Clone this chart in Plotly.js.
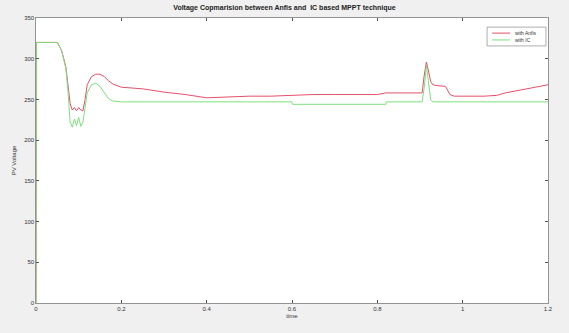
<!DOCTYPE html>
<html>
<head>
<meta charset="utf-8">
<script src="https://cdn.plot.ly/plotly-3.0.1.min.js"></script>
<style>
html,body{margin:0;padding:0;background:#f0f0f0;}
#chart{width:569px;height:333px;}
</style>
</head>
<body>
<div id="chart"></div>
<script>
const anfisTime = [0, 0.001, 0.05, 0.06, 0.07, 0.075, 0.08, 0.085, 0.09, 0.095, 0.1, 0.105, 0.11, 0.115, 0.12, 0.13, 0.14, 0.15, 0.16, 0.17, 0.18, 0.2, 0.25, 0.3, 0.35, 0.4, 0.45, 0.5, 0.55, 0.6, 0.65, 0.7, 0.75, 0.8, 0.82, 0.88, 0.905, 0.91, 0.915, 0.92, 0.925, 0.93, 0.94, 0.96, 0.97, 0.98, 1.0, 1.05, 1.08, 1.1, 1.15, 1.18, 1.2];
const anfisVoltage = [0, 320, 320, 310, 290, 270, 245, 237, 240, 236, 240, 237, 236, 250, 268, 278, 281, 281, 278, 273, 269, 265, 263, 259, 256, 252, 253, 254, 254, 255, 256, 256, 256, 256, 258, 258, 258, 280, 296, 285, 272, 268, 267, 266, 256, 254, 254, 254, 255, 258, 263, 266, 268];
const icTime = [0, 0.001, 0.05, 0.06, 0.07, 0.075, 0.08, 0.085, 0.09, 0.095, 0.1, 0.105, 0.11, 0.115, 0.12, 0.13, 0.14, 0.15, 0.16, 0.17, 0.18, 0.2, 0.6, 0.601, 0.82, 0.821, 0.905, 0.91, 0.915, 0.92, 0.925, 0.93, 1.2];
const icVoltage = [0, 320, 320, 310, 288, 260, 222, 216, 226, 218, 228, 217, 222, 238, 258, 268, 270, 266, 258, 251, 248, 247, 247, 244, 244, 247, 247, 265, 292, 270, 250, 247, 247];
const xTicks = [0, 0.2, 0.4, 0.6, 0.8, 1, 1.2];
const xTickLabels = ['0', '0.2', '0.4', '0.6', '0.8', '1', '1.2'];
const yTicks = [0, 50, 100, 150, 200, 250, 300, 350];
const seriesNames = ['with Anfis', 'with IC'];
const seriesColors = ['#e4506a', '#7ee07e'];

const traces = [
  {x: anfisTime, y: anfisVoltage, type: 'scatter', mode: 'lines', name: seriesNames[0],
   line: {color: seriesColors[0], width: 1}},
  {x: icTime, y: icVoltage, type: 'scatter', mode: 'lines', name: seriesNames[1],
   line: {color: seriesColors[1], width: 1}}
];

const FONT = 'Liberation Sans, Arial, sans-serif';
const axisCommon = {
  showgrid: false, zeroline: false, showline: true, mirror: 'ticks',
  linecolor: '#555', linewidth: 0.6, ticks: 'inside', ticklen: 3, tickcolor: '#555',
  tickfont: {family: FONT, size: 6, color: '#333'}
};

// compact legend box drawn with shapes + annotations
const legX0 = 0.881, legX1 = 0.996, legY0 = 0.902, legY1 = 0.968;
const rowY = [0.947, 0.923];
const shapes = [
  {type: 'rect', xref: 'paper', yref: 'paper', x0: legX0, x1: legX1, y0: legY0, y1: legY1,
   line: {color: '#777', width: 0.6}, fillcolor: '#ffffff'}
];
const annotations = [];
seriesNames.forEach((n, i) => {
  shapes.push({type: 'line', xref: 'paper', yref: 'paper', x0: 0.891, x1: 0.926, y0: rowY[i], y1: rowY[i],
               line: {color: seriesColors[i], width: 1}});
  annotations.push({xref: 'paper', yref: 'paper', x: 0.932, y: rowY[i], xanchor: 'left', yanchor: 'middle',
                    text: n, showarrow: false, font: {family: FONT, size: 5, color: '#333'}});
});

const layout = {
  width: 569, height: 333,
  paper_bgcolor: '#f0f0f0', plot_bgcolor: '#ffffff',
  margin: {l: 36, r: 21, t: 18, b: 30},
  title: {text: '<b>Voltage Copmarision between Anfis and  IC based MPPT technique</b>',
          font: {family: FONT, size: 7, color: '#222'},
          x: 0.5, xanchor: 'center', y: 0.985, yanchor: 'top'},
  xaxis: Object.assign({}, axisCommon, {range: [0, 1.2], tickvals: xTicks, ticktext: xTickLabels,
          title: {text: 'time', font: {family: FONT, size: 6, color: '#333'}, standoff: 2}}),
  yaxis: Object.assign({}, axisCommon, {range: [0, 350], tickvals: yTicks,
          title: {text: 'PV Voltage', font: {family: FONT, size: 6, color: '#333'}, standoff: 6}}),
  showlegend: false,
  shapes: shapes,
  annotations: annotations
};

Plotly.newPlot('chart', traces, layout, {displayModeBar: false, staticPlot: true});
</script>
</body>
</html>
